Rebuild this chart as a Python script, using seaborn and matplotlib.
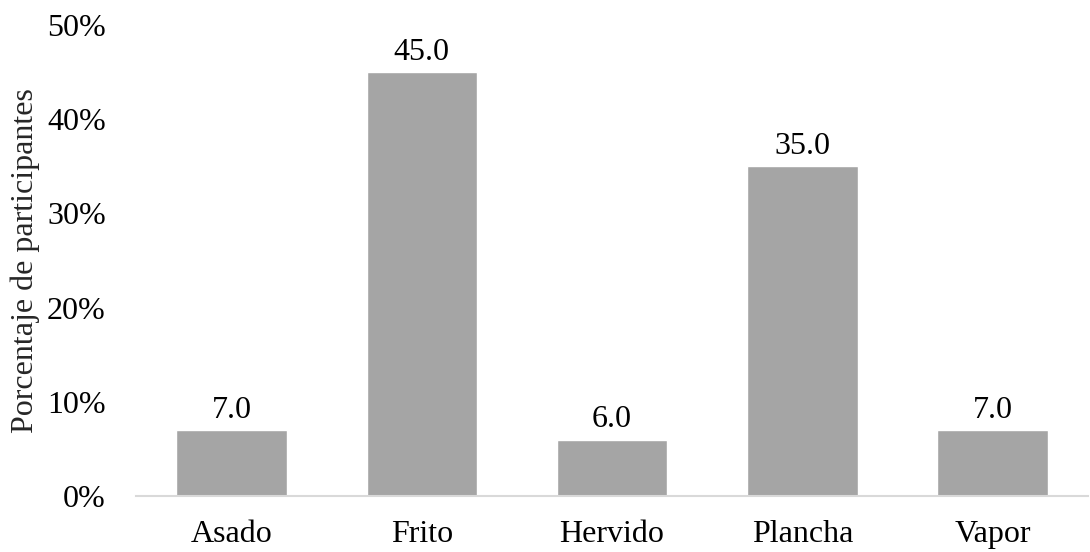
import matplotlib
matplotlib.use("Agg")
import matplotlib.pyplot as plt
from matplotlib.ticker import PercentFormatter
import seaborn as sns
import pandas as pd

categorias = ["Asado", "Frito", "Hervido", "Plancha", "Vapor"]
porcentajes = [7.0, 45.0, 6.0, 35.0, 7.0]
etiqueta_y = "Porcentaje de participantes"

sns.set_theme(style="white")
plt.rcParams["font.family"] = ["Liberation Serif", "DejaVu Serif"]

df = pd.DataFrame({"metodo": categorias, "pct": porcentajes})

fig = plt.figure(figsize=(10.9, 5.52), dpi=100)
ax = fig.add_axes([0.125, 0.1014, 0.873, 0.8533])

sns.barplot(data=df, x="metodo", y="pct", color="#a5a5a5", width=0.58,
            saturation=1, ax=ax)

for p, v in zip(ax.patches, porcentajes):
    ax.annotate(f"{v:.1f}", (p.get_x() + p.get_width() / 2, p.get_height()),
                xytext=(0, 4), textcoords="offset points",
                ha="center", va="bottom", fontsize=23, color="#000000")

ax.set_ylim(0, 50)
ax.set_xlim(-0.5, 4.5)
ax.set_yticks([0, 10, 20, 30, 40, 50])
ax.yaxis.set_major_formatter(PercentFormatter(100, decimals=0))
ax.set_xlabel("")
ax.set_ylabel(etiqueta_y, fontsize=23, labelpad=5)
ax.tick_params(axis="both", labelsize=23, length=0, colors="#000000")
ax.tick_params(axis="y", pad=22)
ax.tick_params(axis="x", pad=17)

for s in ["top", "right", "left"]:
    ax.spines[s].set_visible(False)
ax.spines["bottom"].set_color("#d9d9d9")
ax.spines["bottom"].set_linewidth(1.5)
ax.grid(False)

fig.savefig("out.png", dpi=100)
